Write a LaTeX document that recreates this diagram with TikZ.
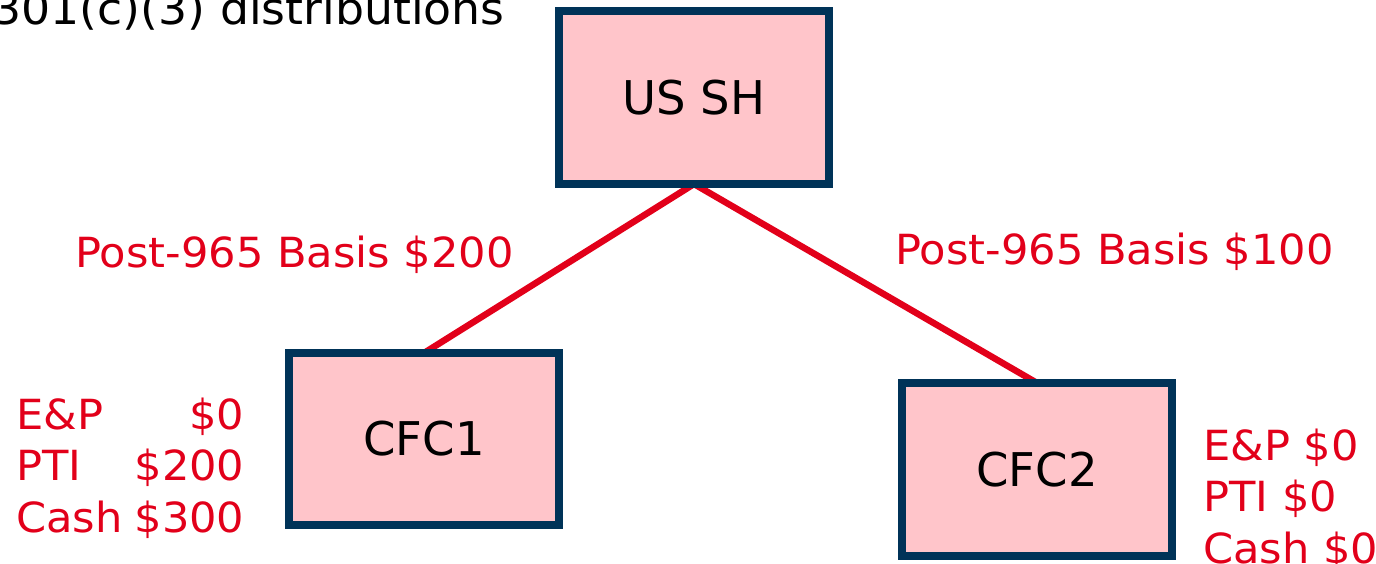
\documentclass[tikz,border=0pt]{standalone}
\usepackage{fontspec}
\setmainfont{DejaVu Sans}
\newfontfamily\widefont[FakeStretch=1.04]{DejaVu Sans}
\usetikzlibrary{backgrounds}
\definecolor{boxnavy}{HTML}{003358}
\definecolor{boxpink}{HTML}{FFC5CA}
\definecolor{labelred}{HTML}{E2001A}
\tikzset{
  entity/.style={draw=boxnavy, fill=boxpink, line width=8pt, outer sep=0pt,
    minimum width=270pt, inner sep=0pt, font=\fontsize{46.5}{55}\selectfont},
  link/.style={draw=labelred, line width=6.5pt},
  redlabel/.style={text=labelred, inner sep=0pt, font=\widefont\fontsize{41.5}{51.5}\selectfont},
}
\begin{document}
\begin{tikzpicture}[x=1pt, y=-1pt]
  \useasboundingbox (0,0) rectangle (1376,564);

  % heading, running off the left edge
  \node[inner sep=0pt, anchor=base east, font=\widefont\fontsize{44}{52}\selectfont]
    (title) at (505,25) {301(c)(3) distributions};

  % shareholder and the two CFCs
  \node[entity, minimum height=173pt] (ussh) at (694,97.5) {US SH};
  \node[entity, minimum height=172pt] (cfc1) at (424,439) {CFC1};
  \node[entity, minimum height=173pt] (cfc2) at (1037,469.5) {CFC2};

  % ownership lines
  \begin{scope}[on background layer]
    \draw[link] (ussh.south) -- (cfc1.north);
    \draw[link] (ussh.south) -- (cfc2.north);
  \end{scope}

  % basis labels
  \node[redlabel, anchor=base west] (basis1) at (75,267) {Post-965 Basis \$200};
  \node[redlabel, anchor=base west] (basis2) at (895,264) {Post-965 Basis \$100};

  % CFC attributes
  \node[redlabel, anchor=base west] (attr1) at (16,429)
    {\begin{tabular}[t]{@{}l@{\hspace{12pt}}r@{}}
      E\&P & \$0\\
      PTI & \$200\\
      Cash & \$300
    \end{tabular}};
  \node[redlabel, anchor=base west] (attr2) at (1203,460)
    {\begin{tabular}[t]{@{}l@{}}
      E\&P \$0\\
      PTI \$0\\
      Cash \$0
    \end{tabular}};
\end{tikzpicture}
\end{document}
